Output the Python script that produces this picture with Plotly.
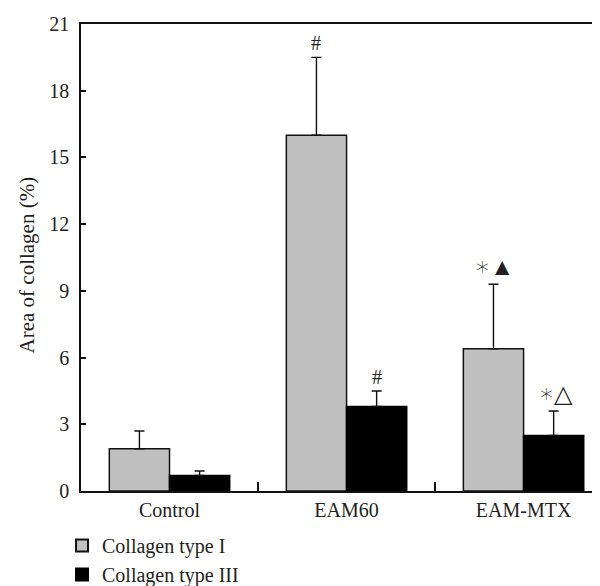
import plotly.graph_objects as go

categories = ["Control", "EAM60", "EAM-MTX"]
type1_vals = [1.9, 16.0, 6.4]
type1_err = [0.8, 3.5, 2.9]
type3_vals = [0.7, 3.8, 2.5]
type3_err = [0.2, 0.7, 1.1]
type1_marks = ["", "#", "∗▲"]
type3_marks = ["", "#", "∗△"]
y_ticks = [0, 3, 6, 9, 12, 15, 18, 21]

FONT = "Liberation Serif"
TXT = "#231f20"

fig = go.Figure()
fig.add_trace(go.Bar(
    x=categories, y=type1_vals, name="Collagen type I",
    marker=dict(color="#c0c0c0", line=dict(color="#111", width=1.5)),
    error_y=dict(type="data", array=type1_err, arrayminus=[0]*3, symmetric=False,
                 color="#111", thickness=1.4, width=5),
))
fig.add_trace(go.Bar(
    x=categories, y=type3_vals, name="Collagen type III",
    marker=dict(color="#000000", line=dict(color="#000", width=1.5)),
    error_y=dict(type="data", array=type3_err, arrayminus=[0]*3, symmetric=False,
                 color="#111", thickness=1.4, width=5),
))

for i, c in enumerate(categories):
    for vals, errs, marks, shift in ((type1_vals, type1_err, type1_marks, -30.5),
                                     (type3_vals, type3_err, type3_marks, 30.5)):
        mark = marks[i]
        if not mark:
            continue
        if mark == "#":
            fig.add_annotation(x=c, y=vals[i] + errs[i], xref="x", yref="y",
                               text=mark, showarrow=False, xshift=shift,
                               yanchor="bottom", yshift=1,
                               font=dict(family=FONT, size=20, color=TXT))
        else:
            txt = ("<span style='font-size:26px'>" + mark[0] + "</span>"
                   + "<span style='font-size:24px'>" + mark[1:] + "</span>")
            fig.add_annotation(x=c, y=vals[i] + errs[i], xref="x", yref="y",
                               text=txt, showarrow=False, xshift=shift + 1,
                               yanchor="bottom", yshift=1,
                               font=dict(family="DejaVu Sans", size=20, color=TXT,
                                         weight=300))

fig.add_annotation(x=-0.1025, y=0.485, xref="paper", yref="paper",
                   text="Area of collagen (%)", textangle=-90, showarrow=False,
                   xanchor="center", yanchor="middle",
                   font=dict(family=FONT, size=21, color=TXT))

fig.update_layout(
    width=600, height=586,
    margin=dict(l=73, r=0, t=16, b=93),
    plot_bgcolor="white", paper_bgcolor="white",
    barmode="group", bargap=0.32, bargroupgap=0,
    font=dict(family=FONT, size=20, color=TXT),
    showlegend=True,
    legend=dict(orientation="v", x=-0.036, y=-0.075, xanchor="left", yanchor="top",
                font=dict(family=FONT, size=20, color=TXT),
                bgcolor="rgba(0,0,0,0)", tracegroupgap=0, itemsizing="constant"),
    xaxis=dict(type="category", range=[-0.5, 2.477], showline=True, linecolor="#111",
               linewidth=1.5, mirror=True, ticks="inside", tickson="boundaries",
               ticklen=9, tickcolor="#111", tickwidth=1.5, showgrid=False,
               tickfont=dict(family=FONT, size=20, color=TXT)),
    yaxis=dict(range=[0, 21], tickvals=y_ticks, showline=True, linecolor="#111",
               linewidth=1.5, ticks="inside", ticklen=5, tickcolor="#111", tickwidth=1.5,
               showgrid=False, zeroline=False, ticklabelstandoff=6,
               tickfont=dict(family=FONT, size=20, color=TXT)),
)

fig.write_html("out.html")
